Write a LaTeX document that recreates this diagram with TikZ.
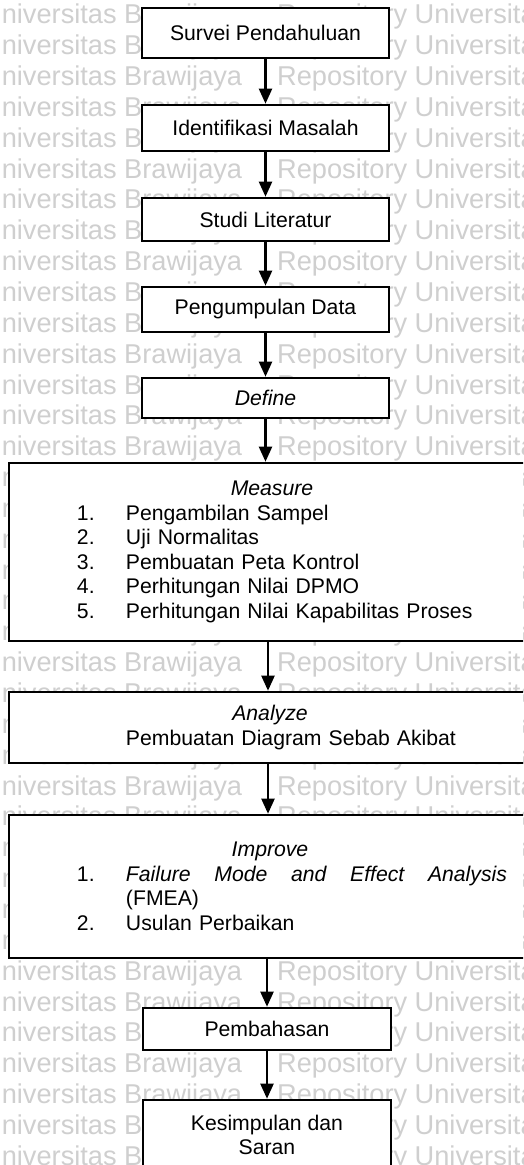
\documentclass[tikz,border=0pt]{standalone}
\usepackage{fontspec}
\setmainfont{Liberation Sans}
\usetikzlibrary{arrows.meta}

\newcommand\mainfs{\fontsize{21.2}{24.6}\selectfont}
\newcommand\wmfs{\fontsize{27.2}{30}\selectfont}

\tikzset{
  box/.style={draw, line width=2.6pt, fill=white, inner sep=0pt, font=\mainfs},
  smallbox/.style={box, minimum width=247pt, align=center},
  bigbox/.style={box, minimum width=518pt, text width=518pt, align=left},
  arr/.style={line width=2.2pt, -{Triangle[width=13pt,length=15pt]}},
  wm/.style={text=black!19, font=\wmfs, anchor=base west, inner sep=0pt},
}

\begin{document}
\begin{tikzpicture}[x=1pt, y=-1pt]
  \useasboundingbox (0,0) rectangle (523,1165);
  \clip (0,0) rectangle (523,1165);
  \fill[white] (0,0) rectangle (523,1165);

  % repository watermark rows
  \foreach \k in {0,...,37} {
    \node[wm] (wmL\k) at (-18, {23.8+30.85*\k}) {Universitas Brawijaya};
    \node[wm] (wmR\k) at (277, {23.8+30.85*\k}) {Repository Universitas};
  }

  % flowchart steps
  \node[smallbox, minimum height=50pt] (survei) at (265.5,33) {Survei Pendahuluan};
  \node[smallbox, minimum height=46pt] (identifikasi) at (265.5,128) {Identifikasi Masalah};
  \node[smallbox, minimum height=43pt] (studi) at (265.5,219.5) {Studi Literatur};
  \node[smallbox, minimum height=45pt] (data) at (265.5,309.5) {Pengumpulan Data};
  \node[smallbox, minimum height=40pt] (define) at (265.5,398) {\itshape Define};

  \node[bigbox, minimum height=178pt] (measure) at (268,552) {%
    \makebox[518pt]{\hspace{8pt}\itshape Measure}\\
    \hspace*{68pt}\makebox[49pt][l]{1.}Pengambilan Sampel\\
    \hspace*{68pt}\makebox[49pt][l]{2.}Uji Normalitas\\
    \hspace*{68pt}\makebox[49pt][l]{3.}Pembuatan Peta Kontrol\\
    \hspace*{68pt}\makebox[49pt][l]{4.}Perhitungan Nilai DPMO\\
    \hspace*{68pt}\makebox[49pt][l]{5.}Perhitungan Nilai Kapabilitas Proses};

  \node[bigbox, minimum height=71pt] (analyze) at (268,727.5) {%
    \makebox[518pt]{\hspace{4pt}\itshape Analyze}\\
    \hspace*{117pt}Pembuatan Diagram Sebab Akibat};

  \node[bigbox, minimum height=143pt] (improve) at (268,886.5) {%
    \makebox[518pt]{\hspace{4pt}\itshape Improve}\\
    \hspace*{68pt}\makebox[49pt][l]{1.}\makebox[381pt][l]{\itshape Failure\hfill Mode\hfill and\hfill Effect\hfill Analysis}\\
    \hspace*{117pt}(FMEA)\\
    \hspace*{68pt}\makebox[49pt][l]{2.}Usulan Perbaikan};

  \node[smallbox, minimum width=248pt, minimum height=42pt] (bahas) at (267,1029) {Pembahasan};
  \node[smallbox, minimum width=248pt, minimum height=70pt] (simpul) at (267,1135) {Kesimpulan dan\\Saran};

  % connectors
  \draw[arr] (survei) -- (identifikasi);
  \draw[arr] (identifikasi) -- (studi);
  \draw[arr] (studi) -- (data);
  \draw[arr] (data) -- (define);
  \draw[arr] (define.south) -- (define.south |- measure.north);
  \draw[arr] (measure) -- (analyze);
  \draw[arr] (analyze) -- (improve);
  \draw[arr] (bahas.north |- improve.south) -- (bahas.north);
  \draw[arr] (bahas) -- (simpul);
\end{tikzpicture}
\end{document}
